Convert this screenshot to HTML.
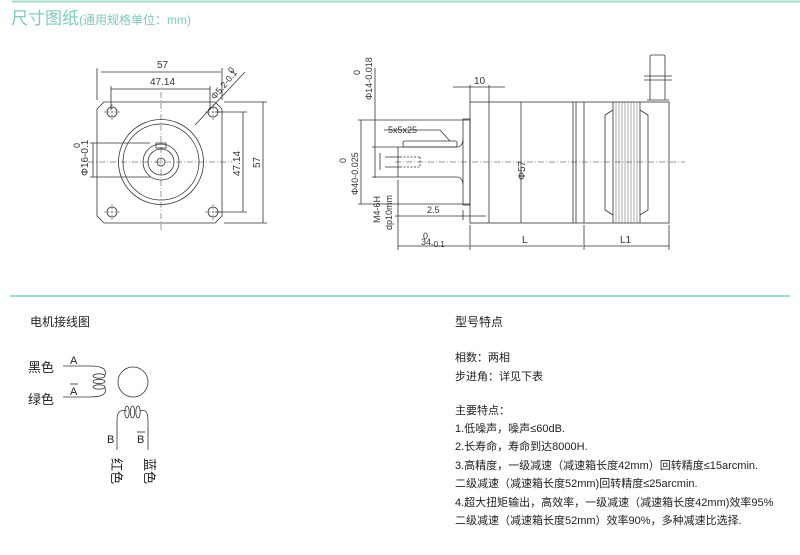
<!DOCTYPE html>
<html><head><meta charset="utf-8"><style>
body{margin:0;background:#fff;width:800px;height:555px;overflow:hidden;font-family:"Liberation Sans","Noto Sans CJK SC",sans-serif}
svg{position:absolute;left:0;top:0}
</style></head><body>
<svg width="800" height="555" viewBox="0 0 800 555" font-family="Liberation Sans, Noto Sans CJK SC, sans-serif">
<line x1="12" y1="1.5" x2="800" y2="1.5" stroke="#a8d8cc" stroke-width="2"/>
<text x="11" y="24" font-size="17" fill="#7ccdb5">尺寸图纸<tspan font-size="12">(通用规格单位：mm)</tspan></text>
<line x1="10" y1="296" x2="790" y2="296" stroke="#a8d8cc" stroke-width="2"/>

<g stroke="#333" stroke-width="0.8" fill="none">
<path d="M104,102 H215 L222,109 V216 L215,223 H104 L97,216 V109 Z"/>
<g stroke-dasharray="6,2,1,2" stroke-width="0.5"><line x1="161" y1="92" x2="161" y2="232"/><line x1="88" y1="162" x2="232" y2="162"/></g>
<circle cx="112" cy="112" r="5"/><circle cx="213" cy="112" r="5"/><circle cx="112" cy="212" r="5"/><circle cx="213" cy="212" r="5"/>
<g stroke-dasharray="2,1.5" stroke-width="0.5"><path d="M104,112h16M112,104v16M205,112h16M213,104v16M104,212h16M112,204v16M205,212h16M213,204v16"/></g>
<circle cx="161" cy="162" r="42.5"/><circle cx="161" cy="162" r="38"/>
<circle cx="161" cy="162" r="18"/><circle cx="161" cy="162" r="13"/><circle cx="161" cy="162" r="4"/>
<rect x="156" y="143" width="10" height="5"/>
<path d="M97,68V100M222,68V100M101,72H221M111,86V110M210,86V110M111,89H210"/>
<path d="M93,143V177M90,143H150M90,177H150"/>
<path d="M215,112H247M215,212H247M243,112V212M224,102H267M224,223H267M263,102V223"/>
<path d="M195,125L245,72"/>
</g>
<g font-size="10" fill="#333">
<text x="157" y="68">57</text><text x="150" y="85">47.14</text>
<text transform="translate(88,176) rotate(-90)">Φ16-0.1</text><text transform="translate(80,148) rotate(-90)" font-size="9">0</text>
<text transform="translate(240,176) rotate(-90)">47.14</text><text transform="translate(260,168) rotate(-90)">57</text>
<text transform="translate(215,100) rotate(-50)" font-size="9">Φ5.2-0.1</text><text transform="translate(232,74) rotate(-50)" font-size="9">0</text>
</g>

<g stroke="#333" stroke-width="0.8" fill="none">
<rect x="470" y="102" width="199" height="121"/>
<path d="M489,102V223M573,102V223M576,102V223M584,102V223"/>
<path d="M613,102V223M640,102V223M605,115 L613,110 M605,115V210L613,215M648,115L640,110M648,115V210L640,215"/>
<g stroke-width="0.4"><path d="M616,102V223M619,102V223M622,102V223M625,102V223M628,102V223M631,102V223M634,102V223M637,102V223"/></g>
<path d="M650,100V57Q650,55 652,55H663Q665,55 665,57V100M647,100H669M644,76H672M644,80H672"/>
<rect x="463" y="119" width="7" height="86"/>
<path d="M398,147H457Q462,147 463,140M398,177H457Q462,177 463,184M398,147V177"/>
<rect x="403" y="141" width="54" height="6" rx="2"/>
<path d="M400,157H420M400,167H420M420,157V167" stroke-dasharray="2,1.5"/>
<g stroke-dasharray="6,2,1,2" stroke-width="0.5"><line x1="395" y1="162" x2="685" y2="162"/></g>
<path d="M375,68V178M372,147H398M372,177H398M361,120V204M358,120H470M358,204H470"/>
<path d="M380,153V170M385,157H400M385,167H400"/>
<path d="M453,87H505M470,85V102M489,85V102"/>
<path d="M521,102V223"/>
<path d="M395,216H486M463,210V220"/>
<path d="M398,180V250M398,246H469M470,225V250M470,246H583M584,225V250M584,246H669M669,225V250"/>
<path d="M384,130H440L450,141"/>
</g>
<g font-size="10" fill="#333">
<text x="474" y="84">10</text>
<text transform="translate(525,180) rotate(-90)">Φ57</text>
<text transform="translate(372,100) rotate(-90)" font-size="9">Φ14-0.018</text><text transform="translate(360,75) rotate(-90)" font-size="9">0</text>
<text transform="translate(358,195) rotate(-90)" font-size="9">Φ40-0.025</text><text transform="translate(346,163) rotate(-90)" font-size="9">0</text>
<text transform="translate(380,223) rotate(-90)" font-size="9">M4-6H</text>
<text transform="translate(392,230) rotate(-90)" font-size="9">dp10mm</text>
<text x="388" y="133" font-size="9">5x5x25</text>
<text x="427" y="213" font-size="9">2.5</text>
<text x="423" y="239" font-size="9">0</text><text x="421" y="245" font-size="9">34<tspan font-size="8" dy="2">-0.1</tspan></text>
<text x="522" y="243">L</text><text x="620" y="243">L1</text>
</g>

<g font-size="12" fill="#222">
<text x="30" y="326">电机接线图</text>
<text x="455" y="326">型号特点</text>
<text x="28" y="372" font-size="13">黑色</text>
<text x="28" y="404" font-size="13">绿色</text>
</g>
<g font-size="11" fill="#222">
<text x="70" y="364">A</text><text x="70" y="395">A</text><line x1="70" y1="384" x2="78" y2="384" stroke="#222" stroke-width="0.8"/>
<text x="107" y="443">B</text><text x="137" y="443">B</text><line x1="137" y1="432" x2="145" y2="432" stroke="#222" stroke-width="0.8"/>
<text transform="translate(112,458) rotate(90)" font-size="13">红色</text>
<text transform="translate(145,458) rotate(90)" font-size="13">蓝色</text>
</g>
<g stroke="#333" stroke-width="0.8" fill="none">
<path d="M63,366H90Q108,366 105,375M63,397H90Q108,397 105,388"/>
<ellipse cx="99" cy="376" rx="6" ry="2.2"/><ellipse cx="99" cy="381.5" rx="6" ry="2.2"/><ellipse cx="99" cy="387" rx="6" ry="2.2"/>
<circle cx="133" cy="382" r="15"/>
<path d="M117,450V420Q117,408 127,411M148,450V420Q148,408 140,411"/>
<ellipse cx="127" cy="412" rx="2.2" ry="6"/><ellipse cx="132.5" cy="412" rx="2.2" ry="6"/><ellipse cx="138" cy="412" rx="2.2" ry="6"/>
</g>

<g font-size="11" fill="#222">
<text x="455" y="361">相数：两相</text>
<text x="455" y="380">步进角：详见下表</text>
<text x="455" y="414">主要特点：</text>
<text x="455" y="432">1.低噪声，噪声≤60dB.</text>
<text x="455" y="450">2.长寿命，寿命到达8000H.</text>
<text x="455" y="469">3.高精度，一级减速（减速箱长度42mm）回转精度≤15arcmin.</text>
<text x="455" y="487">二级减速（减速箱长度52mm)回转精度≤25arcmin.</text>
<text x="455" y="506">4.超大扭矩输出，高效率，一级减速（减速箱长度42mm)效率95%</text>
<text x="455" y="524">二级减速（减速箱长度52mm）效率90%，多种减速比选择.</text>
</g>
</svg>
</body></html>
